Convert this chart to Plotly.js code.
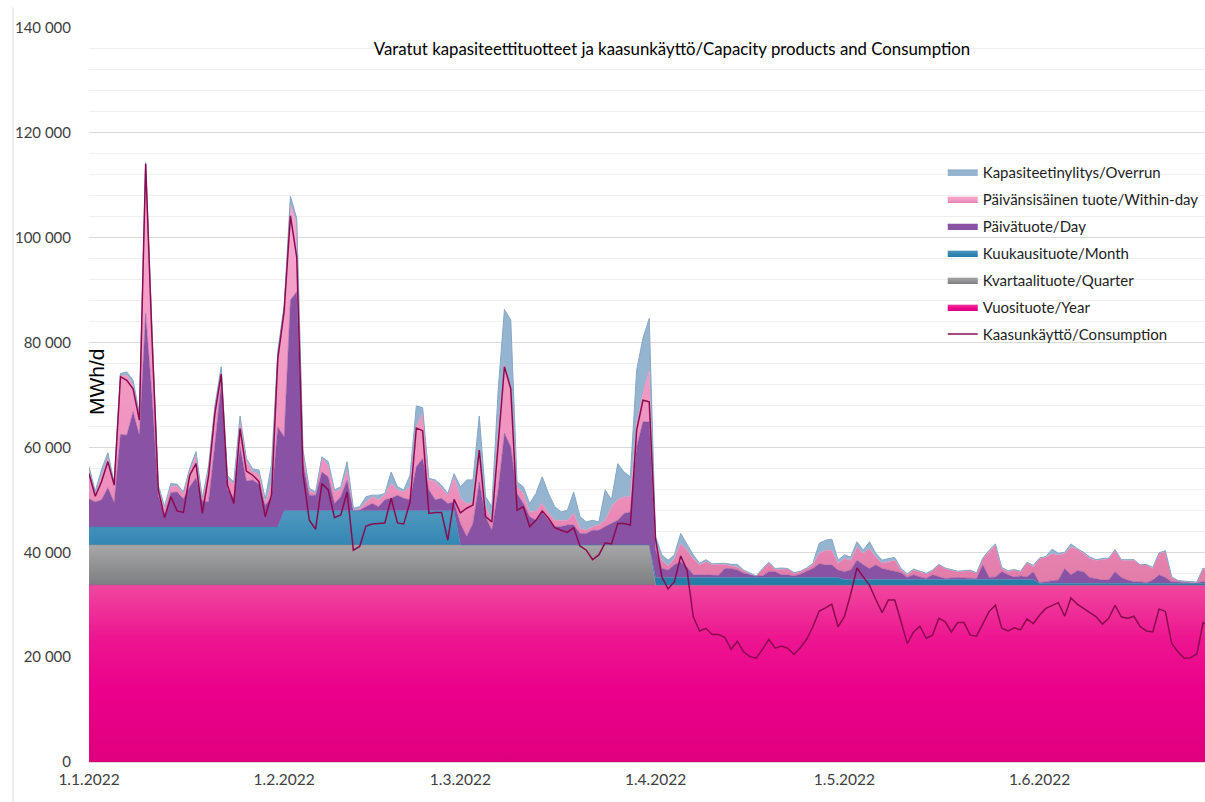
<!DOCTYPE html>
<html>
<head>
<meta charset="utf-8">
<script src="https://cdn.plot.ly/plotly-3.0.1.min.js"></script>
<style>
  html, body { margin: 0; padding: 0; background: #ffffff; overflow: hidden; width: 1205px; height: 802px; }
  #chart { width: 1205px; height: 802px; display: block; }
</style>
</head>
<body>
<div id="chart"></div>
<script>
// ---- Data (MWh/d), daily from 1.1.2022 ----
const monthNames = ['2022-01', '2022-02', '2022-03', '2022-04', '2022-05', '2022-06'];
const daysShown = [31, 28, 31, 30, 31, 29];

// Booked long-term products per calendar month (constant within month)
const yearProduct    = [33700, 33700, 33700, 33700, 33700, 33700];
const quarterProduct = [7700, 7700, 7700, 0, 0, 0];
const monthProduct   = [3400, 6500, 0, 1500, 1100, 400];

// Daily products
const dayProduct = [
  5400,4800,5200,7500,4700,17700,17500,22000,17500,40700,25200,6100,2200,6600,6700,5400,7700,9400,5000,4800,15700,27400,7200,5600,15300,8800,9000,8200,4100,5700,19100,
  14100,40200,41800,9100,3000,3000,7400,6500,1400,2700,5900,100,100,800,1400,800,2100,2400,3000,2400,2100,8400,10000,4000,2100,2400,1400,1700,
  4100,1600,4100,12000,5400,2800,10500,21300,18700,9800,7900,5400,4700,6300,4700,3500,3500,3800,3800,2200,2200,2800,2800,3500,4100,4700,6000,6300,18700,23500,23500,
  5300,1700,1400,2400,3000,2000,500,500,500,400,400,1700,1700,1400,800,600,300,300,1100,1100,500,500,300,600,1100,1700,2600,2400,2400,1400,
  1500,1800,3700,2800,2100,2800,2100,1800,1600,1300,400,900,500,200,900,500,200,300,400,300,200,200,2800,400,500,1500,900,500,700,500,1500,
  100,300,500,600,2800,1600,2400,2200,1100,900,600,600,2200,1100,600,300,300,100,600,1600,1100,300,200,100,100,100,300,300,300
];
const withinDay = [
  5600,1400,4600,5700,3500,11100,11500,5100,3500,28600,12000,1500,1300,1200,1100,1000,3000,4200,200,6200,7000,2000,2000,2600,4900,3900,1500,2000,500,2600,13600,
  24000,18400,13000,1500,900,300,2700,2100,2100,1400,1900,0,300,900,1300,1300,1000,2800,1000,1300,2500,7700,8600,1900,3500,1900,1600,4800,
  4800,6300,4000,6100,1900,1900,11400,13100,11500,1300,1900,900,1800,1600,1300,1200,1200,900,2200,1000,600,700,1000,1200,3200,3900,3200,2900,4500,5400,9800,
  1500,1600,800,1200,3500,3200,3100,1900,2500,2000,2000,800,500,600,500,0,0,1300,1700,400,1100,1100,500,500,600,700,2000,2800,2800,1300,
  2500,1900,2500,2200,3800,1500,1000,1600,2100,500,500,900,900,900,800,2300,1900,1500,1100,1300,1500,1000,1200,4900,6100,600,600,1300,800,2700,900,
  4600,4700,5100,4800,2900,5300,4100,3500,3600,3500,3900,4100,4100,3300,3800,4100,3200,3400,2200,4100,4900,800,300,200,100,100,2500,1900,1600
];
const overrun = [
  500,700,1200,1000,300,500,600,900,700,200,1000,400,500,500,400,300,500,800,300,700,400,1200,600,400,1000,400,600,700,800,3700,1000,
  1000,1400,1000,1000,400,300,200,800,500,500,1600,400,400,1000,300,900,200,2200,600,300,2200,3900,1100,300,300,600,300,600,
  2200,4500,4300,6500,1900,2600,7600,10500,12700,900,1300,1600,3300,5100,3800,2600,1600,1900,4100,2200,1600,1200,600,5800,1300,6900,4700,3800,10100,10500,9900,
  1000,1000,1100,700,1900,1000,700,300,400,200,200,200,300,500,100,300,0,100,100,200,200,100,100,100,100,300,1900,1900,2100,600,
  700,600,1000,600,1300,700,600,600,500,300,200,200,200,100,100,100,100,100,100,100,100,100,100,300,200,200,200,100,100,100,300,
  100,100,900,300,200,600,100,200,300,100,200,100,100,100,100,100,0,100,200,100,200,100,0,100,100,0,100,100,100
];
const consumption = [
  55000,50700,53500,57300,52800,73500,72800,71200,65200,114100,81000,52000,46600,50600,47900,47600,54700,56900,47400,54600,66500,74000,52800,49300,63600,55500,54700,53500,46800,51000,77000,
  86000,104200,96300,55000,46100,44400,53100,51900,46600,47100,51500,40400,41100,45000,45400,45500,45600,50300,45600,45400,49600,63700,63200,47400,47600,47600,42300,50100,
  47500,48400,49000,59500,46800,45800,60800,75400,71200,48000,48700,44900,46100,47900,46500,44700,44200,43800,44700,41200,40400,38600,39500,41800,41600,45500,45500,45200,63300,69000,68700,
  42600,35300,33000,34400,39300,36600,27700,25000,25500,24300,24300,23800,21500,23000,21000,20100,19800,21500,23400,21700,22100,21700,20500,21800,23400,25800,28800,29400,30100,25800,
  27700,32000,37000,35300,33700,31000,28500,30900,30900,26800,22600,24800,25900,23600,24200,27400,26800,24800,26600,26600,24200,24000,26400,28700,29900,25500,25000,25600,25200,27300,26400,
  28000,29300,29900,30400,27800,31300,30100,29300,28400,27700,26300,27400,29900,27700,27400,27800,25800,25000,24800,29200,28700,22600,21000,19800,19900,20600,26600,25900,25500
];

const tickVals = ['2022-01-01', '2022-02-01', '2022-03-01', '2022-04-01', '2022-05-01', '2022-06-01'];
const tickText = ['1.1.2022', '1.2.2022', '1.3.2022', '1.4.2022', '1.5.2022', '1.6.2022'];

// ---- build daily x and step series from the monthly tables ----
const dates = [], yearS = [], quarterS = [], monthS = [];
monthNames.forEach((m, k) => {
  for (let d = 1; d <= daysShown[k]; d++) {
    dates.push(m + '-' + String(d).padStart(2, '0'));
    yearS.push(yearProduct[k]);
    quarterS.push(quarterProduct[k]);
    monthS.push(monthProduct[k]);
  }
});

const FONT = 'Lato, "Open Sans", sans-serif';

function area(name, y, rank, opts) {
  return Object.assign({
    type: 'scatter', mode: 'lines', x: dates, y: y, name: name,
    stackgroup: 'cap', legendrank: rank, legendgroup: name,
    line: { width: 0.5, shape: 'linear' }, hoverinfo: 'skip'
  }, opts);
}

const traces = [
  area('Vuosituote/Year', yearS, 6, {
    line: { width: 0.5, color: '#ec008c' }, fillcolor: '#ec008c',
    fillgradient: { type: 'vertical', start: 0, stop: 33700,
      colorscale: [[0, '#df007e'], [0.4, '#eb008b'], [0.7, '#ed1590'], [1, '#f0479e']] }
  }),
  area('Kvartaalituote/Quarter', quarterS, 5, {
    line: { width: 0.5, color: '#909092' }, fillcolor: '#939395',
    fillgradient: { type: 'vertical', start: 33700, stop: 41400,
      colorscale: [[0, '#7d7e81'], [1, '#a7a7a8']] }
  }),
  area('Kuukausituote/Month', monthS, 4, {
    line: { width: 0.5, color: '#3386b2' }, fillcolor: '#3386b2',
    fillgradient: { type: 'vertical', start: 33700, stop: 48000,
      colorscale: [[0, '#247ca6'], [0.55, '#3487b4'], [1, '#4f99bf']] }
  }),
  area('Päivätuote/Day', dayProduct, 3, {
    line: { width: 0.5, color: '#8a52a3' }, fillcolor: '#8a52a3'
  }),
  area('Päivänsisäinen tuote/Within-day', withinDay, 2, {
    line: { width: 0.5, color: '#ee8fbc' }, fillcolor: '#ee8fbc',
    fillgradient: { type: 'vertical', start: 34000, stop: 110000,
      colorscale: [[0, '#e27ca9'], [0.25, '#ee90bd'], [1, '#f7a9cf']] }
  }),
  area('Kapasiteetinylitys/Overrun', overrun, 1, {
    line: { width: 1, color: '#84a7c7' }, fillcolor: '#95b4d0'
  }),
  {
    type: 'scatter', mode: 'lines', x: dates, y: consumption,
    name: 'Kaasunkäyttö/Consumption', legendrank: 7, legendgroup: 'cons',
    line: { color: '#8c0b50', width: 1.5 }, hoverinfo: 'skip'
  }
];

const layout = {
  width: 1205, height: 802,
  margin: { l: 89, r: 0, t: 28, b: 40, autoexpand: false },
  paper_bgcolor: '#ffffff', plot_bgcolor: '#ffffff',
  separators: ', ',
  font: { family: FONT, size: 15, color: '#404040' },
  showlegend: true,
  title: {
    text: 'Varatut kapasiteettituotteet ja kaasunkäyttö/Capacity products and Consumption',
    x: 0.5224, xref: 'paper', xanchor: 'center',
    y: 1 - 49 / 802, yref: 'container', yanchor: 'middle',
    font: { family: FONT, size: 16.8, color: '#000000' }
  },
  xaxis: {
    type: 'date',
    range: ['2022-01-01', '2022-06-27 07:00'],
    tickmode: 'array', tickvals: tickVals, ticktext: tickText,
    showgrid: false, zeroline: false,
    showline: true, linecolor: '#d9d9d9', linewidth: 1,
    ticks: '', ticklabelstandoff: 3,
    tickfont: { family: FONT, size: 15.5, color: '#404040' }
  },
  yaxis: {
    range: [0, 140000], dtick: 20000, tick0: 0,
    tickformat: ',d',
    showgrid: true, gridcolor: '#d9d9d9', gridwidth: 1,
    minor: { dtick: 4000, showgrid: true, gridcolor: '#efefef', gridwidth: 1 },
    zeroline: false, showline: false, ticks: '',
    ticklabelstandoff: 17,
    tickfont: { family: FONT, size: 15, color: '#404040' }
  },
  legend: {
    x: 0.765, xanchor: 'left', y: 0.826, yanchor: 'top',
    bgcolor: 'rgba(0,0,0,0)',
    font: { family: FONT, size: 15, color: '#1e1e1e' },
    traceorder: 'grouped', tracegroupgap: 4.5, itemwidth: 30
  },
  annotations: [{
    text: 'MWh/d', xref: 'paper', yref: 'paper',
    x: (96 - 89) / 1116, y: 1 - (382 - 28) / 734,
    xanchor: 'center', yanchor: 'middle', textangle: -90, showarrow: false,
    font: { family: '"Liberation Sans", Arial, sans-serif', size: 21, color: '#000000' }
  }],
  shapes: [{
    type: 'line', xref: 'paper', yref: 'paper',
    x0: (13 - 89) / 1116, x1: (13 - 89) / 1116, y0: -0.055, y1: 1.028,
    line: { color: '#d9d9d9', width: 1 }
  }]
};

Plotly.newPlot('chart', traces, layout, { staticPlot: true, displayModeBar: false });
</script>
</body>
</html>
